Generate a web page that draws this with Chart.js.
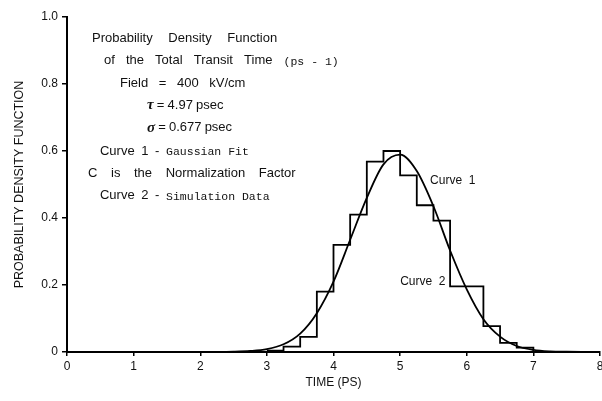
<!DOCTYPE html>
<html lang="en">
<head>
  <meta charset="UTF-8" />
  <title>Probability Density Function</title>
  <script src="https://cdn.jsdelivr.net/npm/chart.js"></script>
  <style>
    body { margin: 0; background: #fff; }
    .chart-box { width: 602px; height: 401px; }
  </style>
</head>
<body>
  <div class="chart-box"><canvas id="pdfChart"></canvas></div>

  <script>
    // Curve 1 - gaussian fit
    const fitTime = [0, 0.5, 1, 1.5, 2, 2.5, 2.75, 3, 3.25, 3.5, 3.75, 4, 4.25, 4.5, 4.75, 5, 5.25, 5.5, 5.75, 6, 6.25, 6.5, 6.75, 7, 7.25, 7.5, 8];
    const fitValue = [0, 0, 0, 0, 0, 0.001, 0.003, 0.0085, 0.023, 0.055, 0.116, 0.21, 0.335, 0.46, 0.56, 0.589, 0.54, 0.435, 0.303, 0.187, 0.098, 0.046, 0.018, 0.0065, 0.002, 0.0007, 0];

    // Curve 2 - simulation histogram, left bin edges (0.25 ps bins)
    const binStart = [3, 3.25, 3.5, 3.75, 4, 4.25, 4.5, 4.75, 5, 5.25, 5.5, 5.75, 6, 6.25, 6.5, 6.75, 7];
    const binValue = [0.004, 0.016, 0.045, 0.18, 0.32, 0.41, 0.568, 0.6, 0.527, 0.438, 0.392, 0.196, 0.196, 0.077, 0.027, 0.013, 0];

    const xTicks = [0, 1, 2, 3, 4, 5, 6, 7, 8];
    const yTicks = [0, 0.2, 0.4, 0.6, 0.8, 1.0];

    // text block in the upper left ('s' sans, 'm' typewriter, 'g' greek)
    const noteText = [
      [['s', 'Probability Density Function']],
      [['s', 'of the Total Transit Time'], ['m', '(ps - 1)']],
      [['s', 'Field = 400 kV/cm']],
      [['g', 'τ'], ['s', '= 4.97 psec']],
      [['g', 'σ'], ['s', '= 0.677 psec']],
      [['s', 'Curve 1 -'], ['m', 'Gaussian Fit']],
      [['s', 'C is the Normalization Factor']],
      [['s', 'Curve 2 -'], ['m', 'Simulation Data']]
    ];
    const noteX = [0.375, 0.555, 0.795, 1.2, 1.2, 0.495, 0.315, 0.495];
    const noteY = [0.937, 0.869, 0.803, 0.737, 0.669, 0.6, 0.534, 0.466];
    const noteGap = [12, 7.5, 7, -0.5, -0.5, 3, 10, 3];

    const curveLabels = ['Curve  1', 'Curve  2'];
    const curveLabelX = [5.45, 5.0];
    const curveLabelY = [0.512, 0.21];

    const fonts = {
      s: '13px "Liberation Sans", Arial, sans-serif',
      m: '11.5px "Liberation Mono", "DejaVu Sans Mono", monospace',
      g: 'bold italic 15px "Liberation Serif", serif'
    };

    const notesPlugin = {
      id: 'notes',
      afterDraw(chart) {
        const ctx = chart.ctx;
        const xs = chart.scales.x, ys = chart.scales.y;
        ctx.save();
        ctx.fillStyle = '#111';
        ctx.textBaseline = 'middle';
        ctx.textAlign = 'left';
        noteText.forEach((line, i) => {
          let px = xs.getPixelForValue(noteX[i]);
          const py = ys.getPixelForValue(noteY[i]);
          line.forEach(([kind, text]) => {
            ctx.font = fonts[kind];
            if (kind === 'm') {
              ctx.fillText(text, px, py + 1);
              px += ctx.measureText(text + ' ').width;
              return;
            }
            text.split(' ').forEach(word => {
              ctx.fillText(word, px, py);
              px += ctx.measureText(word + ' ').width + noteGap[i];
            });
          });
        });
        ctx.font = '12px "Liberation Sans", Arial, sans-serif';
        curveLabels.forEach((t, i) => {
          ctx.fillText(t, xs.getPixelForValue(curveLabelX[i]), ys.getPixelForValue(curveLabelY[i]));
        });
        ctx.restore();
      }
    };

    const tickFont = { family: '"Liberation Sans", Arial, sans-serif', size: 12 };

    new Chart(document.getElementById('pdfChart'), {
      type: 'line',
      data: {
        datasets: [
          {
            label: 'Curve 1',
            data: fitTime.map((t, i) => ({ x: t, y: fitValue[i] })),
            borderColor: '#000',
            borderWidth: 1.8,
            pointRadius: 0,
            cubicInterpolationMode: 'monotone'
          },
          {
            label: 'Curve 2',
            data: binStart.map((t, i) => ({ x: t, y: binValue[i] })),
            borderColor: '#000',
            borderWidth: 1.8,
            pointRadius: 0,
            stepped: 'before'
          }
        ]
      },
      options: {
        responsive: true,
        maintainAspectRatio: false,
        animation: false,
        layout: { padding: { top: 17, right: 2, left: 0, bottom: 0 } },
        plugins: { legend: { display: false }, tooltip: { enabled: false } },
        scales: {
          x: {
            type: 'linear',
            min: 0,
            max: 8,
            afterBuildTicks: s => { s.ticks = xTicks.map(v => ({ value: v })); },
            afterFit: s => { s.height = 49; s.paddingLeft = 0; s.paddingRight = 0; },
            grid: { display: true, drawOnChartArea: false, tickLength: 4, color: '#000', lineWidth: 1.5 },
            border: { display: true, color: '#000', width: 2 },
            ticks: { color: '#111', font: tickFont, padding: 3, maxRotation: 0 },
            title: { display: true, text: 'TIME (PS)', color: '#111', font: tickFont, padding: { top: 0, bottom: 11 } }
          },
          y: {
            min: 0,
            max: 1,
            afterBuildTicks: s => { s.ticks = yTicks.map(v => ({ value: v })); },
            afterFit: s => { s.width = 67; },
            grid: { display: true, drawOnChartArea: false, tickLength: 5, color: '#000', lineWidth: 1.5 },
            border: { display: true, color: '#000', width: 2 },
            ticks: { color: '#111', font: tickFont, padding: 4, callback: v => v === 0 ? '0' : v.toFixed(1) },
            title: { display: true, text: 'PROBABILITY DENSITY FUNCTION', color: '#111', font: { family: tickFont.family, size: 12.5 }, padding: { top: 12, bottom: 0 } }
          }
        }
      },
      plugins: [notesPlugin]
    });
  </script>
</body>
</html>
